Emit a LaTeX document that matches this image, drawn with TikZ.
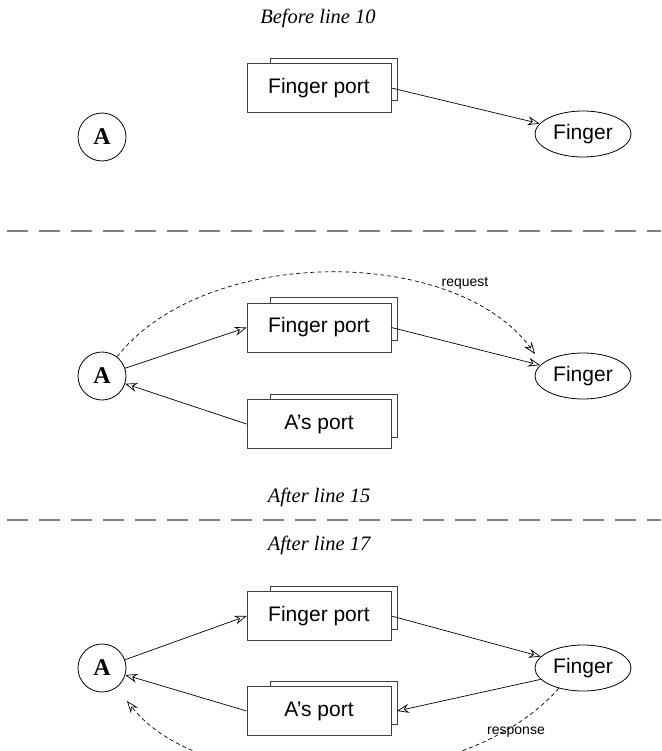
\documentclass[tikz,border=0pt]{standalone}
\usepackage{fontspec}
\setmainfont{Liberation Serif}
\setsansfont{Liberation Sans}
\usetikzlibrary{arrows.meta,shapes.geometric,backgrounds}

\tikzset{
 portbox/.style={draw=black!75, line width=0.9pt, fill=white, minimum width=144pt, minimum height=49pt, inner sep=0pt, font=\sffamily\fontsize{21}{24}\selectfont},
 backbox/.style={draw=black!75, line width=0.9pt, fill=white},
 actor/.style={draw, circle, line width=0.8pt, minimum size=48pt, inner sep=0pt, font=\bfseries\fontsize{24}{26}\selectfont},
 target/.style={draw, ellipse, line width=0.8pt, minimum width=96pt, minimum height=46pt, inner sep=0pt, font=\sffamily\fontsize{21}{24}\selectfont},
 title/.style={font=\itshape\fontsize{20.5}{22}\selectfont},
 sep/.style={draw=black!50, line width=1.6pt, dash pattern=on 21pt off 11pt},
 conn/.style={line width=0.7pt, -{Stealth[open,length=12pt,width=9pt,inset=4pt]}},
 msg/.style={conn, dash pattern=on 4pt off 3pt},
 lbl/.style={font=\sffamily\fontsize{14}{16}\selectfont}
}

\begin{document}
\begin{tikzpicture}[x=1pt,y=-1pt]
\useasboundingbox (0,0) rectangle (661,751);

% titles
\node[title] (t1) at (318,18) {Before line 10};
\node[title] (t2) at (319,497) {After line 15};
\node[title] (t3) at (319,545) {After line 17};

% separators
\coordinate (s1a) at (7,231); \coordinate (s1b) at (661,231);
\coordinate (s2a) at (7,520); \coordinate (s2b) at (661,520);
\draw[sep] (s1a) -- (s1b);
\draw[sep] (s2a) -- (s2b);

% ---------- section 1 ----------
\node[actor] (a1) at (102,137) {A};
\node[portbox] (fp1) at (319,88) {Finger port};
\node[target] (f1) at (583,134) {Finger};

% ---------- section 2 ----------
\node[actor] (a2) at (102,376) {A};
\node[portbox] (fp2) at (319,327.5) {Finger port};
\node[portbox] (ap2) at (319,424) {A’s port};
\node[target] (f2) at (583,376) {Finger};

% ---------- section 3 ----------
\node[actor] (a3) at (102,668) {A};
\node[portbox] (fp3) at (319,616) {Finger port};
\node[portbox] (ap3) at (319,711) {A’s port};
\node[target] (f3) at (583,668) {Finger};

% back boxes
\begin{scope}[on background layer]
\foreach \n in {fp1,fp2,ap2,fp3,ap3}{
  \draw[backbox] ([shift={(24,-5)}]\n.north west) rectangle ([shift={(6,-12)}]\n.south east);
}
\end{scope}

% connectors section 1
\draw[conn] (fp1.east) -- (f1);

% connectors section 2
\draw[conn] (a2) -- (fp2.west);
\draw[conn] (fp2.east) -- (f2);
\draw[conn] (ap2.west) -- (a2);
\coordinate (rq) at (535,354);
\draw[msg] (a2.52) .. controls (205,245) and (455,245) .. (rq);
\node[lbl] (req) at (465,283) {request};

% connectors section 3
\draw[conn] (a3) -- (fp3.west);
\draw[conn] (fp3.east) -- (f3);
\coordinate (apr) at (397,711);
\draw[conn] (f3.195) -- (apr);
\draw[conn] (ap3.west) -- (a3);
\coordinate (rs) at (127,701);
\draw[msg] (f3.220) .. controls (460,800) and (205,800) .. (rs);
\node[lbl] (resp) at (516,732) {response};
\end{tikzpicture}
\end{document}
